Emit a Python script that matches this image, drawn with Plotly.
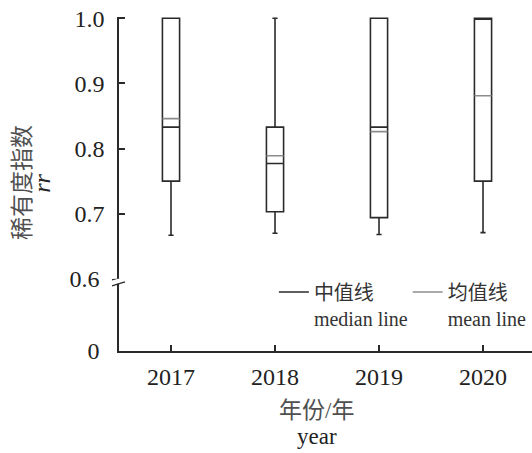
import plotly.graph_objects as go
from plotly.subplots import make_subplots

# Rarity index (rr) box statistics per year
years = [2017, 2018, 2019, 2020]
lower_fence = [0.667, 0.670, 0.668, 0.671]
q1 = [0.750, 0.703, 0.694, 0.750]
median = [0.833, 0.777, 0.833, 1.000]
q3 = [1.000, 0.833, 1.000, 1.000]
upper_fence = [1.000, 1.000, 1.000, 1.000]
mean = [0.846, 0.789, 0.826, 0.881]

box_w = 0.165
dark = "#2a2a2a"
grey = "#8c8c8c"
latin = "Liberation Serif, Noto Sans CJK SC, serif"
tick_font = dict(family="Liberation Serif", size=24, color="#222")

fig = make_subplots(rows=2, cols=1, shared_xaxes=True,
                    vertical_spacing=0, row_heights=[0.784, 0.216])

fig.add_trace(go.Box(
    x=years, q1=q1, median=median, q3=q3,
    lowerfence=lower_fence, upperfence=upper_fence,
    width=box_w, whiskerwidth=0.3,
    fillcolor="rgba(255,255,255,0)",
    line=dict(color=dark, width=1.6),
    boxpoints=False, showlegend=False, hoverinfo="skip",
), row=1, col=1)

# legend entry for the median line
fig.add_trace(go.Scatter(
    x=[None], y=[None], mode="lines",
    line=dict(color=dark, width=1.6),
    name="中值线<br>median line", legend="legend",
), row=1, col=1)

# mean lines across each box
mx, my = [], []
for yr, m in zip(years, mean):
    mx += [yr - box_w / 2, yr + box_w / 2, None]
    my += [m, m, None]
fig.add_trace(go.Scatter(
    x=mx, y=my, mode="lines",
    line=dict(color=grey, width=1.6),
    name="均值线<br>mean line", hoverinfo="skip", legend="legend2",
), row=1, col=1)

axis_common = dict(showline=True, linecolor=dark, linewidth=1.6,
                   showgrid=False, zeroline=False)

fig.update_xaxes(range=[2016.5, 2020.471], **axis_common)
fig.update_xaxes(showline=False, showticklabels=False, ticks="", row=1, col=1)
fig.update_xaxes(tickvals=years, ticktext=[str(y) for y in years],
                 tickfont=tick_font,
                 ticks="inside", ticklen=6, tickwidth=1.6, tickcolor=dark,
                 ticklabelstandoff=3, row=2, col=1)

fig.update_yaxes(range=[0.6, 1.002], tickvals=[0.7, 0.8, 0.9, 1.0],
                 ticktext=["0.7", "0.8", "0.9", "1.0"], tickfont=tick_font,
                 ticks="inside", ticklen=6, tickwidth=1.6, tickcolor=dark,
                 ticklabelstandoff=8,
                 row=1, col=1, **axis_common)
fig.update_yaxes(range=[0, 0.6], tickvals=[0, 0.6], ticktext=["0", "0.6"],
                 tickfont=tick_font, ticks="", ticklabelstandoff=13,
                 row=2, col=1, **axis_common)

# axis break marks at 0.6
shapes = [
    dict(type="rect", xref="paper", yref="y2", xsizemode="pixel", ysizemode="pixel",
         xanchor=0, yanchor=0.6, x0=-3, x1=3, y0=-5, y1=2,
         fillcolor="white", line=dict(width=0), layer="above"),
    dict(type="line", xref="paper", yref="y2", xsizemode="pixel", ysizemode="pixel",
         xanchor=0, yanchor=0.6, x0=-7, x1=6, y0=-1, y1=3,
         line=dict(color=dark, width=1.4), layer="above"),
    dict(type="line", xref="paper", yref="y2", xsizemode="pixel", ysizemode="pixel",
         xanchor=0, yanchor=0.6, x0=-7, x1=6, y0=-7, y1=-3,
         line=dict(color=dark, width=1.4), layer="above"),
]

annotations = [
    dict(text="稀有度指数", xref="paper", yref="paper", x=-0.2324, y=0.503,
         textangle=-90, showarrow=False, xanchor="center", yanchor="middle",
         font=dict(family=latin, size=23, color="#505050")),
    dict(text="<i>rr</i>", xref="paper", yref="paper", x=-0.187, y=0.503,
         textangle=-90, showarrow=False, xanchor="center", yanchor="middle",
         font=dict(family=latin, size=24, color="#222")),
    dict(text="年份/年", xref="paper", yref="paper", x=0.479, y=-0.177,
         showarrow=False, xanchor="center", yanchor="middle",
         font=dict(family=latin, size=23, color="#505050")),
    dict(text="year", xref="paper", yref="paper", x=0.479, y=-0.255,
         showarrow=False, xanchor="center", yanchor="middle",
         font=dict(family=latin, size=23, color="#222")),
]

legend_style = dict(orientation="v", yanchor="top", xanchor="left",
                    valign="top", bgcolor="rgba(0,0,0,0)", itemwidth=30,
                    font=dict(family=latin, size=20, color="#333"),
                    itemclick=False, itemdoubleclick=False)

fig.update_layout(
    width=532, height=453,
    margin=dict(l=119, r=0, t=17, b=102),
    paper_bgcolor="white", plot_bgcolor="white",
    font=dict(family=latin, color="#222"),
    showlegend=True,
    legend=dict(x=0.375, y=0.235, **legend_style),
    legend2=dict(x=0.699, y=0.235, **legend_style),
    shapes=shapes,
    annotations=annotations,
)

fig.write_html("out.html")
